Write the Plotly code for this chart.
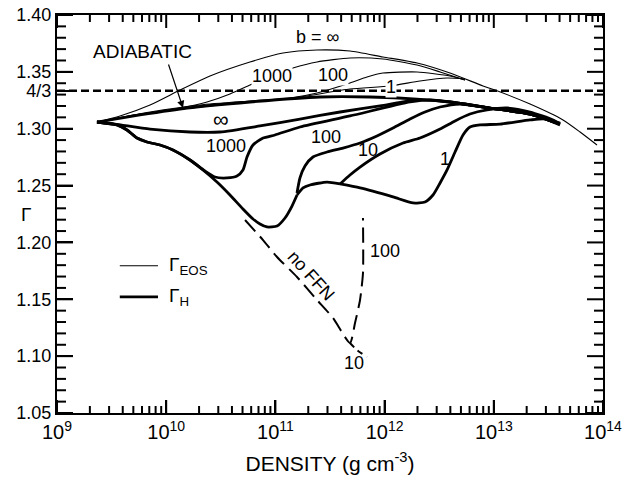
import numpy as np
import plotly.graph_objects as go

# Density given as log10(rho / g cm^-3); Gamma is the adiabatic index.

# ---- Gamma_EOS curves (thin), labelled by b ----
lg_eos_inf = [9.366, 9.577, 9.852, 10.126, 10.401, 10.767, 11.070, 11.381, 11.683,
              11.985, 12.297, 12.599, 12.901, 13.011, 13.332, 13.634, 13.790, 13.945]
g_eos_inf = [1.3059, 1.3112, 1.3209, 1.3340, 1.3464, 1.3587, 1.3666, 1.3692, 1.3683,
             1.3631, 1.3578, 1.3490, 1.3376, 1.3340, 1.3217, 1.3077, 1.2971, 1.2857]

lg_eos_1000 = [9.366, 9.760, 10.126, 10.374, 10.584, 10.749, 10.951, 11.161, 11.381,
               11.683, 11.985, 12.297, 12.508, 12.736]
g_eos_1000 = [1.3059, 1.3129, 1.3182, 1.3235, 1.3305, 1.3376, 1.3464, 1.3534, 1.3587,
              1.3622, 1.3613, 1.3560, 1.3499, 1.3428]

lg_eos_100 = [9.366, 9.852, 10.310, 10.767, 11.134, 11.381, 11.683, 11.839, 11.985,
              12.297, 12.599, 12.736]
g_eos_100 = [1.3059, 1.3147, 1.3209, 1.3244, 1.3270, 1.3314, 1.3402, 1.3455, 1.3490,
             1.3499, 1.3464, 1.3428]

lg_eos_1 = [9.366, 9.852, 10.310, 10.767, 11.225, 11.683, 12.050, 12.324, 12.572, 12.736]
g_eos_1 = [1.3059, 1.3138, 1.3191, 1.3235, 1.3279, 1.3349, 1.3376, 1.3420, 1.3446, 1.3437]

# ---- Gamma_H curves (thick) ----
lg_h_adiabatic = [9.366, 9.760, 10.191, 10.767, 11.408, 11.866, 12.297, 12.599,
                  12.965, 13.332, 13.606]
g_h_adiabatic = [1.3059, 1.3121, 1.3182, 1.3235, 1.3279, 1.3279, 1.3261, 1.3235,
                 1.3182, 1.3129, 1.3050]

lg_h_inf = [9.366, 9.531, 9.852, 10.218, 10.493, 10.859, 11.225, 11.592, 11.958,
            12.297, 12.599, 12.965, 13.332, 13.606]
g_h_inf = [1.3059, 1.3041, 1.2997, 1.2971, 1.2971, 1.3024, 1.3085, 1.3147, 1.3200,
           1.3253, 1.3235, 1.3182, 1.3129, 1.3041]

lg_h_1000 = [9.366, 9.549, 9.641, 9.733, 9.824, 9.943, 10.062, 10.218, 10.355, 10.447,
             10.557, 10.648, 10.703, 10.740, 10.795, 10.887, 10.996, 11.225, 11.683,
             12.233, 12.416, 12.599, 12.965, 13.332, 13.606]
g_h_1000 = [1.3059, 1.3033, 1.2989, 1.2918, 1.2883, 1.2857, 1.2813, 1.2725, 1.2628, 1.2575,
            1.2567, 1.2584, 1.2637, 1.2751, 1.2857, 1.2918, 1.2945, 1.3015, 1.3112,
            1.3235, 1.3253, 1.3235, 1.3182, 1.3129, 1.3041]

# common descending branch shared by b = 100, 10, 1
lg_h_low = [9.366, 9.549, 9.641, 9.733, 9.824, 9.943, 10.062, 10.218, 10.337, 10.465,
            10.584, 10.703, 10.795, 10.859, 10.923, 11.015, 11.088, 11.152, 11.198]
g_h_low = [1.3059, 1.3033, 1.2989, 1.2918, 1.2883, 1.2857, 1.2813, 1.2725, 1.2637, 1.2531,
           1.2417, 1.2294, 1.2206, 1.2162, 1.2136, 1.2144, 1.2215, 1.2320, 1.2417]

lg_h_100 = [11.198, 11.225, 11.271, 11.344, 11.473, 11.619, 11.775, 11.930, 12.077,
            12.233, 12.370, 12.508, 12.691, 12.965, 13.332, 13.606]
g_h_100 = [1.2435, 1.2567, 1.2672, 1.2751, 1.2795, 1.2830, 1.2874, 1.2936, 1.3006,
           1.3085, 1.3147, 1.3191, 1.3217, 1.3182, 1.3129, 1.3041]

# b = 10 and b = 1 share a short stretch before splitting
lg_h_mid = [11.198, 11.253, 11.317, 11.473, 11.592]
g_h_mid = [1.2417, 1.2479, 1.2505, 1.2531, 1.2514]

lg_h_10 = [11.592, 11.683, 11.775, 11.958, 12.169, 12.324, 12.508, 12.645, 12.782,
           12.938, 13.121, 13.332, 13.542, 13.606]
g_h_10 = [1.2514, 1.2593, 1.2663, 1.2778, 1.2874, 1.2918, 1.2997, 1.3068, 1.3129,
          1.3165, 1.3182, 1.3147, 1.3077, 1.3041]

lg_h_1 = [11.592, 11.775, 12.077, 12.260, 12.370, 12.443, 12.508, 12.572, 12.645,
          12.718, 12.782, 12.874, 13.057, 13.332, 13.469, 13.606]
g_h_1 = [1.2514, 1.2479, 1.2400, 1.2347, 1.2356, 1.2417, 1.2523, 1.2637, 1.2795,
         1.2945, 1.3015, 1.3033, 1.3041, 1.3077, 1.3085, 1.3033]

# ---- runs without FFN rates (dashed) ----
lg_noffn_100 = [10.722, 10.887, 11.015, 11.198, 11.381, 11.528, 11.683, 11.729,
                11.775, 11.802, 11.802]
g_noffn_100 = [1.2197, 1.2021, 1.1872, 1.1696, 1.1494, 1.1335, 1.1116, 1.1291,
               1.1494, 1.1731, 1.2215]
lg_noffn_10 = [11.683, 11.747, 11.839]
g_noffn_10 = [1.1116, 1.1054, 1.0993]

GAMMA_43 = 4.0 / 3.0
x_decades = [9, 10, 11, 12, 13, 14]
y_range = [1.05, 1.40]
y_major = [1.05, 1.10, 1.15, 1.20, 1.25, 1.30, GAMMA_43, 1.35, 1.40]
y_major_text = ["1.05", "1.10", "1.15", "1.20", "1.25", "1.30", "4/3", "1.35", "1.40"]

THIN = 1.1
THICK = 2.8
INK = "black"
FONT = "Liberation Sans, Arial, sans-serif"

# figure / plot-area geometry in pixels
W, H = 623, 483
M_L, M_R, M_T, M_B = 57, 20, 15, 70
PW, PH = W - M_L - M_R, H - M_T - M_B


def rho(lg):
    return np.power(10.0, np.asarray(lg, dtype=float))


fig = go.Figure()


def add_curve(lg, g, width, dash=None):
    fig.add_trace(go.Scatter(
        x=rho(lg), y=g, mode="lines",
        line=dict(color=INK, width=width, dash=dash, shape="spline", smoothing=0.6),
        showlegend=False, hoverinfo="skip"))


# thin EOS curves
add_curve(lg_eos_inf, g_eos_inf, THIN)
add_curve(lg_eos_1000, g_eos_1000, THIN)
add_curve(lg_eos_100, g_eos_100, THIN)
add_curve(lg_eos_1, g_eos_1, THIN)

# thick Gamma_H curves
add_curve(lg_h_adiabatic, g_h_adiabatic, THICK)
add_curve(lg_h_inf, g_h_inf, THICK)
add_curve(lg_h_1000, g_h_1000, THICK)
add_curve(lg_h_low, g_h_low, THICK)
add_curve(lg_h_100, g_h_100, THICK)
add_curve(lg_h_mid, g_h_mid, THICK)
add_curve(lg_h_10, g_h_10, THICK)
add_curve(lg_h_1, g_h_1, THICK)

# no-FFN runs
add_curve(lg_noffn_100, g_noffn_100, 2.0, dash="15px,7px")
add_curve(lg_noffn_10, g_noffn_10, 2.0, dash="6px,5px")

# Gamma = 4/3 reference
fig.add_trace(go.Scatter(
    x=rho([x_decades[0], x_decades[-1]]), y=[GAMMA_43, GAMMA_43], mode="lines",
    line=dict(color=INK, width=2.6, dash="8px,4px"), showlegend=False, hoverinfo="skip"))


def label(lg, g, text, size=18, angle=0, bg=None):
    fig.add_annotation(x=lg, y=g, xref="x", yref="y", text=text, showarrow=False,
                       font=dict(family=FONT, size=size, color=INK), textangle=angle,
                       bgcolor=bg, borderpad=0)


label(11.39, 1.3807, "b = ∞")
label(10.97, 1.3464, "1000", bg="white")
label(11.53, 1.3472, "100", bg="white")
label(12.06, 1.3367, "1", bg="white")
label(9.78, 1.3683, "ADIABATIC", size=19)
label(10.50, 1.3085, "∞", size=22)
label(10.55, 1.2848, "1000")
label(11.46, 1.2927, "100")
label(11.85, 1.2813, "10")
label(12.55, 1.2734, "1")
label(11.33, 1.1705, "no FFN", angle=48)
label(12.00, 1.1925, "100")
label(11.72, 1.0940, "10")

# arrow to the adiabatic curve
fig.add_annotation(x=10.154, y=1.3182, xref="x", yref="y", text="", showarrow=True,
                   ax=-15, ay=-45, arrowhead=2, arrowsize=1.2, arrowwidth=1.2,
                   arrowcolor=INK)

# Gamma symbol on the vertical axis
fig.add_annotation(x=(19 - M_L) / PW, y=0.5, xref="paper", yref="paper", text="Γ",
                   showarrow=False, font=dict(family=FONT, size=19, color=INK))

# key: thin = Gamma_EOS, thick = Gamma_H
key_rows = [("Γ<sub>EOS</sub>", THIN, 0.370), ("Γ<sub>H</sub>", THICK, 0.292)]
for text, width, yk in key_rows:
    fig.add_shape(type="line", xref="paper", yref="paper", x0=0.115, x1=0.185,
                  y0=yk, y1=yk, line=dict(color=INK, width=width))
    fig.add_annotation(x=0.201, y=yk, xref="paper", yref="paper", text=text,
                       showarrow=False, xanchor="left", yanchor="middle",
                       font=dict(family=FONT, size=19, color=INK))

# inward tick marks on all four sides of the frame
X_MAJOR, X_MINOR = 13, 7
Y_MAJOR, Y_MINOR = 16, 9
tick_line = dict(color=INK, width=2)


def x_tick(frac, length):
    h = length / PH
    for y0, y1 in ((0, h), (1, 1 - h)):
        fig.add_shape(type="line", xref="paper", yref="paper", x0=frac, x1=frac,
                      y0=y0, y1=y1, line=tick_line, layer="above")


def y_tick(frac, length):
    w = length / PW
    for x0, x1 in ((0, w), (1, 1 - w)):
        fig.add_shape(type="line", xref="paper", yref="paper", x0=x0, x1=x1,
                      y0=frac, y1=frac, line=tick_line, layer="above")


span_x = x_decades[-1] - x_decades[0]
for d in x_decades:
    x_tick((d - x_decades[0]) / span_x, X_MAJOR)
    if d < x_decades[-1]:
        for k in range(2, 10):
            x_tick((d + np.log10(k) - x_decades[0]) / span_x, X_MINOR)

span_y = y_range[1] - y_range[0]
for i in range(36):
    frac = i * 0.01 / span_y
    y_tick(frac, Y_MAJOR if i % 5 == 0 else Y_MINOR)

fig.update_xaxes(
    type="log", range=[x_decades[0], x_decades[-1]], automargin=False,
    tickmode="array", tickvals=[10.0 ** d for d in x_decades],
    ticktext=[f"10<sup>{d}</sup>" for d in x_decades],
    tickfont=dict(family=FONT, size=20, color=INK),
    ticks="inside", ticklen=X_MAJOR, tickwidth=2, tickcolor=INK,
    showline=True, linewidth=2, linecolor=INK, mirror=True,
    showgrid=False, zeroline=False,
    title=dict(text="DENSITY (g cm<sup>-3</sup>)", standoff=14,
               font=dict(family=FONT, size=21, color=INK)))

fig.update_yaxes(
    range=y_range, automargin=False,
    tickmode="array", tickvals=y_major, ticktext=y_major_text,
    tickfont=dict(family=FONT, size=18, color=INK),
    ticks="inside", ticklen=Y_MAJOR, tickwidth=2, tickcolor=INK,
    showline=True, linewidth=2, linecolor=INK, mirror=True,
    showgrid=False, zeroline=False)

fig.update_layout(
    width=W, height=H,
    margin=dict(l=M_L, r=M_R, t=M_T, b=M_B, autoexpand=False),
    paper_bgcolor="white", plot_bgcolor="white",
    font=dict(family=FONT, color=INK),
    showlegend=False,
)

fig.write_html("out.html")
